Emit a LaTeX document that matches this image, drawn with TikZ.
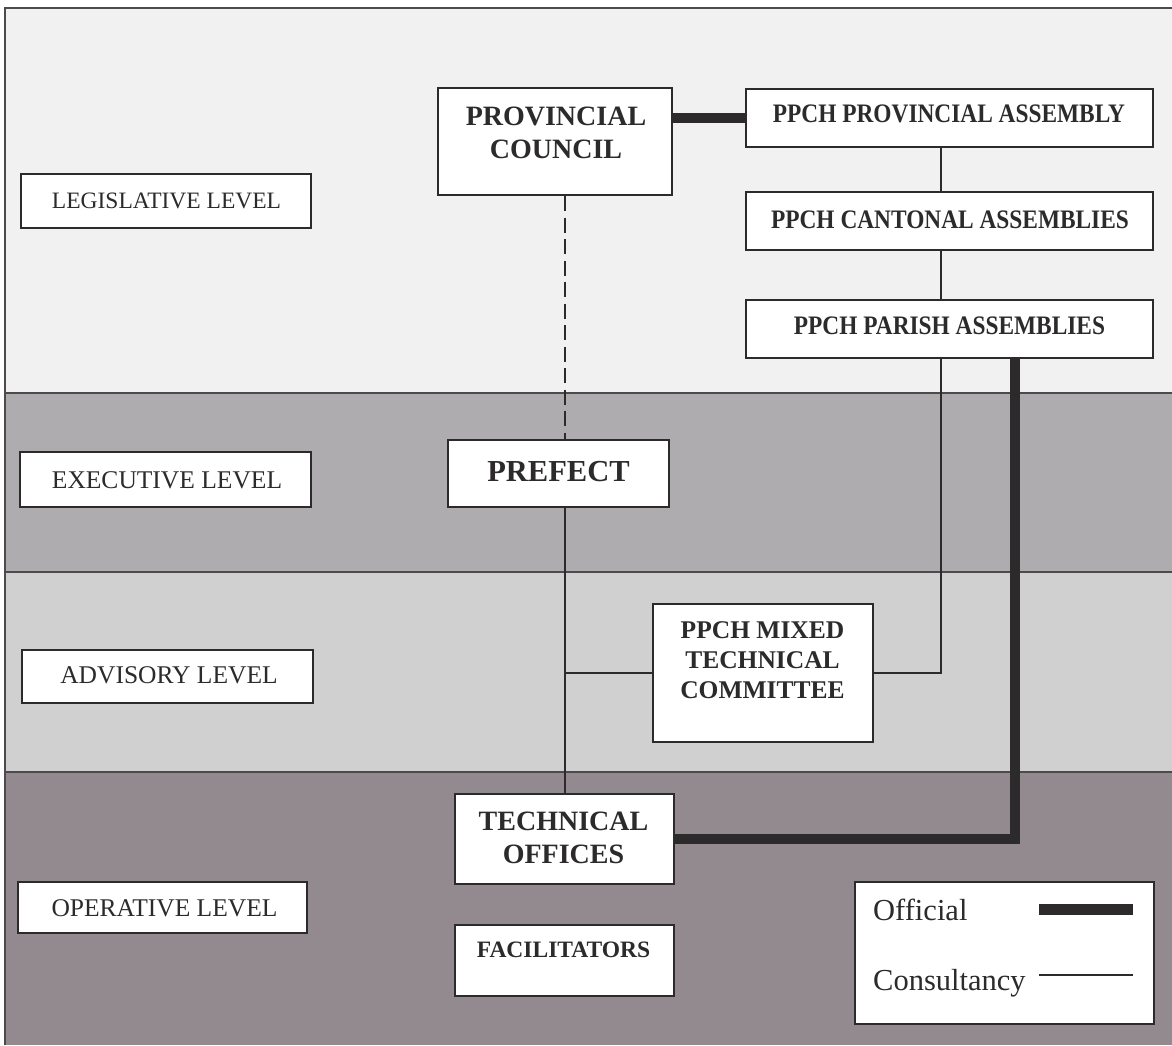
\documentclass[tikz,border=0pt]{standalone}
\usepackage{fontspec}
\setmainfont{Liberation Serif}
\newfontfamily\narrowserif[FakeStretch=0.875]{Liberation Serif}
\newcommand{\txsize}[2]{\fontsize{#1}{#2}\selectfont}

\definecolor{bandA}{HTML}{F1F1F1}
\definecolor{bandB}{HTML}{AEACAE}
\definecolor{bandC}{HTML}{D0D0D0}
\definecolor{bandD}{HTML}{928A8E}
\definecolor{ink}{HTML}{2C2A2B}

\begin{document}
\begin{tikzpicture}[x=1pt,y=-1pt,
  box/.style={draw=ink, line width=2pt, fill=white, inner sep=0pt},
  boxtext/.style={text=ink, inner sep=0pt, align=center},
  levelbox/.style={box},
  official/.style={draw=ink, line width=10pt},
  consult/.style={draw=ink, line width=2.8pt},
  consultdash/.style={consult, dash pattern=on 15pt off 6.5pt},
  bandline/.style={draw=ink!85, line width=2.5pt}]

\useasboundingbox (0,0) rectangle (1172,1045);
\fill[white] (0,0) rectangle (1172,1045);

% level bands
\fill[bandA] (5,8)   rectangle (1172,393);
\fill[bandB] (5,393) rectangle (1172,572);
\fill[bandC] (5,572) rectangle (1172,772);
\fill[bandD] (5,772) rectangle (1172,1045);
\draw[bandline] (5,1045) -- (5,8) -- (1172,8);
\draw[bandline] (5,393) -- (1172,393);
\draw[bandline] (5,572) -- (1172,572);
\draw[bandline] (5,772) -- (1172,772);

% column positions of the vertical links
\coordinate (colmain) at (565,0);
\coordinate (colppch) at (941,0);
\coordinate (colofc)  at (1015,0);

% boxes
\node[box, minimum width=234, minimum height=107] (pc)   at (555,141.5) {};
\node[box, minimum width=407, minimum height=58]  (ppa)  at (949.5,118) {};
\node[box, minimum width=407, minimum height=58]  (pca)  at (949.5,221) {};
\node[box, minimum width=407, minimum height=58]  (ppar) at (949.5,328.5) {};
\node[box, minimum width=221, minimum height=67]  (pref) at (558.5,473.5) {};
\node[box, minimum width=220, minimum height=138] (mix)  at (763,673) {};
\node[box, minimum width=219, minimum height=90]  (tech) at (564.5,838.5) {};
\node[box, minimum width=219, minimum height=71]  (fac)  at (564.5,960.5) {};

\node[levelbox, minimum width=290, minimum height=54] (leg) at (166,201) {};
\node[levelbox, minimum width=291, minimum height=55] (exe) at (165.5,479.5) {};
\node[levelbox, minimum width=291, minimum height=53] (adv) at (167.5,676) {};
\node[levelbox, minimum width=289, minimum height=51] (op)  at (162.5,907.5) {};

\node[box, minimum width=299, minimum height=142] (legend) at (1004.5,953) {};

% connectors
\draw[official] (pc.east |- ppa.west) -- (ppa.west);
\draw[consult] (ppa.south -| colppch) -- (pca.north -| colppch);
\draw[consult] (pca.south -| colppch) -- (ppar.north -| colppch);
\draw[consult] (ppar.south -| colppch) |- (mix.east);
\draw[official] (ppar.south -| colofc) |- (tech.east);
\draw[consultdash] (pc.south -| colmain) -- (pref.north -| colmain);
\draw[consult] (pref.south -| colmain) -- (tech.north -| colmain);
\draw[consult] (colmain |- mix.west) -- (mix.west);

% box labels
\node[boxtext, font=\bfseries\txsize{28}{33}] (pct) at (556,132.5) {PROVINCIAL\\COUNCIL};
\node[boxtext, font=\narrowserif\bfseries\txsize{26.7}{30}] (ppat) at (949,114) {PPCH PROVINCIAL ASSEMBLY};
\node[boxtext, font=\narrowserif\bfseries\txsize{26.7}{30}] (pcat) at (950,219.5) {PPCH CANTONAL ASSEMBLIES};
\node[boxtext, font=\narrowserif\bfseries\txsize{26.7}{30}] (ppart) at (949.5,325.5) {PPCH PARISH ASSEMBLIES};
\node[boxtext, font=\bfseries\txsize{30.5}{34}] (preft) at (558.5,472) {PREFECT};
\node[boxtext, font=\bfseries\txsize{25.5}{30}] (mixt) at (762.5,660.5) {PPCH MIXED\\TECHNICAL\\COMMITTEE};
\node[boxtext, font=\bfseries\txsize{28}{33}] (techt) at (563.5,837.5) {TECHNICAL\\OFFICES};
\node[boxtext, font=\bfseries\txsize{23.5}{28}] (fact) at (563.5,949.5) {FACILITATORS};

\node[boxtext, font=\txsize{23.5}{28}] (legt) at (166.5,201) {LEGISLATIVE LEVEL};
\node[boxtext, font=\txsize{25.5}{30}] (exet) at (167,480) {EXECUTIVE LEVEL};
\node[boxtext, font=\txsize{25.5}{30}] (advt) at (169,675.5) {ADVISORY LEVEL};
\node[boxtext, font=\txsize{25.5}{30}] (opt)  at (164.5,908) {OPERATIVE LEVEL};

% legend
\node[text=ink, inner sep=0pt, anchor=base west, font=\txsize{30.5}{34}] (offt) at (873,920) {Official};
\node[text=ink, inner sep=0pt, anchor=base west, font=\txsize{30.5}{34}] (cont) at (873,990) {Consultancy};
\coordinate (offa) at (1039,909);
\coordinate (offb) at (1133,909);
\coordinate (cona) at (1039,975);
\coordinate (conb) at (1133,975);
\draw[official, line width=11pt] (offa) -- (offb);
\draw[consult, line width=2.4pt] (cona) -- (conb);

\end{tikzpicture}
\end{document}
